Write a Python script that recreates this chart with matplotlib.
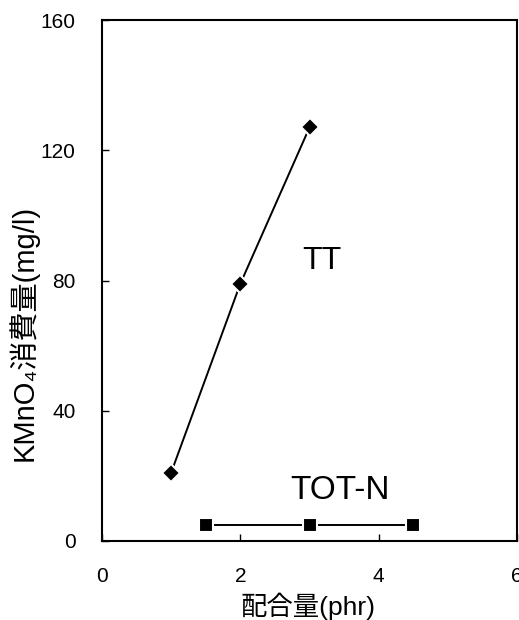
import matplotlib
matplotlib.use("Agg")
import matplotlib.pyplot as plt

plt.rcParams['font.family'] = ['Liberation Sans', 'Noto Sans CJK JP', 'DejaVu Sans']

tt_x = [1, 2, 3]
tt_y = [21, 79, 127]
totn_x = [1.5, 3, 4.5]
totn_y = [5, 5, 5]
xticks = [0, 2, 4, 6]
yticks = [0, 40, 80, 120, 160]

W, H = 519, 620
fig = plt.figure(figsize=(W / 100, H / 100), dpi=100)
ax = fig.add_axes([102 / W, 1 - 541 / H, 415 / W, 521 / H])

ax.plot(tt_x, tt_y, color='black', lw=1.4, marker='D', markersize=9,
        markerfacecolor='black', markeredgecolor='white', markeredgewidth=1.5)
ax.plot(totn_x, totn_y, color='black', lw=1.4, marker='s', markersize=10,
        markerfacecolor='black', markeredgecolor='white', markeredgewidth=1.5)

ax.text(3.18, 86, 'TT', fontsize=23, ha='center', va='center')
ax.text(3.44, 15.5, 'TOT-N', fontsize=24, ha='center', va='center')

ax.set_xlim(0, 6)
ax.set_ylim(0, 160)
ax.set_xticks(xticks)
ax.set_yticks(yticks)
ax.tick_params(direction='in', length=5, width=1, labelsize=15)
ax.tick_params(axis='x', pad=19)
ax.tick_params(axis='y', pad=19)
for s in ax.spines.values():
    s.set_linewidth(1.5)

fig.text(308 / W, 1 - 606 / H, '配合量(phr)', fontsize=19, ha='center', va='center')
fig.text(23 / W, 1 - 333 / H, 'KMnO₄消費量(mg/l)', fontsize=21, ha='center',
         va='center', rotation=90)

fig.savefig('out.png', dpi=100)
